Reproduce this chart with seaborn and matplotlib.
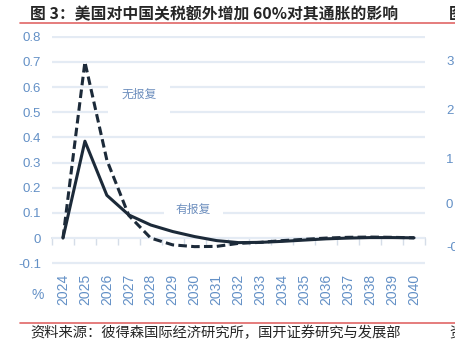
import matplotlib.pyplot as plt
import matplotlib as mpl
import pandas as pd
import seaborn as sns

sns.set_style('white')
mpl.rcParams['font.family'] = ['Liberation Sans', 'Noto Sans CJK SC', 'DejaVu Sans']
CJK = ['Noto Sans CJK SC', 'DejaVu Sans']

years = list(range(2024, 2041))
# 有报复 (with retaliation), solid
with_retaliation = [0.0, 0.385, 0.17, 0.092, 0.052, 0.026, 0.006, -0.010, -0.018,
                    -0.017, -0.013, -0.008, -0.003, 0.0, 0.002, 0.002, 0.001]
# 无报复 (no retaliation), dashed
no_retaliation = [0.0, 0.70, 0.31, 0.09, 0.0, -0.027, -0.034, -0.033, -0.021,
                  -0.017, -0.010, -0.005, 0.0, 0.003, 0.004, 0.003, 0.001]
y_ticks = [-0.1, 0, 0.1, 0.2, 0.3, 0.4, 0.5, 0.6, 0.7, 0.8]
y_ticklabels = ['-0.1', '0', '0.1', '0.2', '0.3', '0.4', '0.5', '0.6', '0.7', '0.8']

df = pd.DataFrame({
    'year': years * 2,
    'value': with_retaliation + no_retaliation,
    'series': ['有报复'] * len(years) + ['无报复'] * len(years),
})

LINE = '#1c2a39'
TICK = '#6390c6'
GRID = '#e4ebf4'
RED = '#e06666'

fig = plt.figure(figsize=(4.55, 3.52), dpi=100)
ax = fig.add_axes([52 / 455, 87.5 / 352, 373 / 455, 229 / 352])

sns.lineplot(data=df, x='year', y='value', hue='series', style='series',
             palette={'有报复': LINE, '无报复': LINE},
             dashes={'有报复': '', '无报复': (2.8, 1.4)},
             linewidth=2.2, legend=False, ax=ax, zorder=5)

ax.set_xlim(2023.5, 2040.5)
ax.set_ylim(-0.105, 0.805)
ax.set_yticks(y_ticks)
ax.set_yticklabels(y_ticklabels)
ax.set_xticks(years)
ax.set_xticklabels([str(y) for y in years], rotation=90)
ax.tick_params(axis='y', length=0, pad=8, labelsize=9.5, labelcolor=TICK)
ax.tick_params(axis='x', length=0, pad=7, labelsize=10, labelcolor=TICK)
ax.set_xlabel('')
ax.set_ylabel('')
for s in ax.spines.values():
    s.set_visible(False)
ax.grid(axis='y', color=GRID, linewidth=1.6)
ax.grid(axis='x', visible=False)
ax.set_axisbelow(True)

# zero axis line with category tick marks between years
zero_pos = (0 - (-0.105)) / 0.91
sec = ax.secondary_xaxis(zero_pos)
sec.set_xticks([y - 0.5 for y in years] + [2040.5])
sec.set_xticklabels([])
sec.tick_params(length=5, width=1, color='#d5dde8', direction='out')
sec.spines['bottom'].set_color('#d5dde8')
sec.spines['bottom'].set_linewidth(1.2)
for k in ['top', 'left', 'right']:
    sec.spines[k].set_visible(False)

ax.text(2027.47, 0.57, '无报复', family=CJK, fontsize=8.5, color='#6f90bf',
        ha='center', va='center', zorder=3,
        bbox=dict(boxstyle='square,pad=1.1', fc='white', ec='none'))
ax.text(2029.93, 0.112, '有报复', family=CJK, fontsize=8.5, color='#6f90bf',
        ha='center', va='center', zorder=3,
        bbox=dict(boxstyle='square,pad=1.0', fc='white', ec='none'))

fig.text(38 / 455, 1 - 295 / 352, '%', fontsize=10, color=TICK, ha='center', va='center')

# title, source and rules
fig.text(30 / 455, 1 - 14 / 352, '图 3：美国对中国关税额外增加 60%对其通胀的影响',
         family=CJK, fontsize=11.4, fontweight='bold', ha='left', va='center')
fig.text(30 / 455, 1 - 333 / 352, '资料来源：彼得森国际经济研究所，国开证券研究与发展部',
         family=CJK, fontsize=10.3, ha='left', va='center')
fig.add_artist(plt.Line2D([20 / 455, 1], [1 - 22.5 / 352] * 2, color=RED, linewidth=1.2))
fig.add_artist(plt.Line2D([20 / 455, 1], [1 - 323 / 352] * 2, color=RED, linewidth=1.2))

# fragments of the neighbouring figure at the right edge
fig.text(449 / 455, 1 - 14 / 352, '图', family=CJK, fontsize=11.4, fontweight='bold',
         ha='left', va='center')
fig.text(449 / 455, 1 - 333 / 352, '资', family=CJK, fontsize=10.3, ha='left', va='center')
for yy, lab in zip([62, 111, 160, 205, 248], ['3', '2', '1', '0', '-0']):
    fig.text(446 / 455, 1 - yy / 352, lab, fontsize=9.5, color=TICK, ha='left', va='center')

fig.savefig('out.png', dpi=100)
